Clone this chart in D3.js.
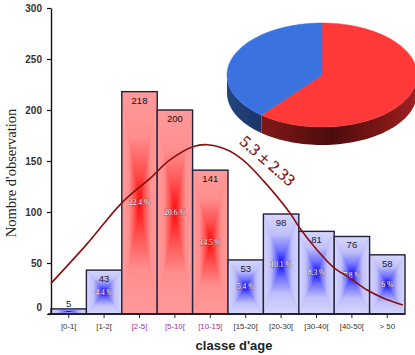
<!DOCTYPE html>
<html><head><meta charset="utf-8">
<script src="https://cdn.jsdelivr.net/npm/d3@7"></script>
<style>html,body{margin:0;padding:0;background:#fff;}svg{display:block;}</style>
</head><body>
<script>
const categories = ["[0-1[","[1-2[","[2-5[","[5-10[","[10-15[","[15-20[","[20-30[","[30-40[","[40-50[","> 50"];
const counts = [5,43,218,200,141,53,98,81,76,58];
const pctLabels = ["","4.4 %","22.4 %","20.6 %","14.5 %","5.4 %","10.1 %","8.3 %","7.8 %","6 %"];
const groups = ["b","b","r","r","r","b","b","b","b","b"];
const yTicks = [0,50,100,150,200,250,300];
const curveX = [0,1,2,2.8,3.36,4.01,4.41,4.97,5.42,5.99,6.75,7.03,7.51,7.97,8.45,8.93,9.38,9.94];
const curveY = [30,68,109,133,151,164,166,161,151,131,99,84,63,46,35,23.5,15.7,8.8];
const pieLabels = ["red","blue"];
const pieValues = [61,39];
const curveLabel = "5.3 \u00b1 2.33";

const W=415,H=355;
const svg=d3.select("body").append("svg").attr("width",W).attr("height",H);
svg.append("rect").attr("width",W).attr("height",H).attr("fill","#fff");
const defs=svg.append("defs");

const x=d3.scaleBand().domain(categories).range([51,405]).padding(0);
const xc=d3.scaleLinear().domain([0,10]).range([51,405]);
const y=d3.scaleLinear().domain([0,300]).range([314,8]);

// gradients
const pal={r:["#ff9a9a","#ff8e8e","#ff5050","#ff0808"], b:["#d6d6ff","#c0c0fa","#7272ff","#0808ff"]};
function mkGrad(id,g,x1,y1,x2,y2){
  const lg=defs.append("linearGradient").attr("id",id).attr("x1",x1).attr("y1",y1).attr("x2",x2).attr("y2",y2);
  [[0,0],[0.4,1],[0.72,2],[1,3]].forEach(([o,i])=>lg.append("stop").attr("offset",o).attr("stop-color",pal[g][i]));
}
["r","b"].forEach(g=>{
  mkGrad("gT"+g,g,0,0,0,1); mkGrad("gB"+g,g,0,1,0,0);
  mkGrad("gL"+g,g,0,0,1,0); mkGrad("gR"+g,g,1,0,0,0);
});

const bars=svg.append("g");
categories.forEach((c,i)=>{
  const x0=x(c),x1=x0+x.bandwidth(),y0=y(counts[i]),y1=y(0),cx=(x0+x1)/2,cy=(y0+y1)/2,g=groups[i];
  const gg=bars.append("g");
  gg.append("rect").attr("x",x0).attr("y",y0).attr("width",x1-x0).attr("height",y1-y0).attr("fill",pal[g][2]);
  const tris=[[[x0,y0],[x1,y0],[cx,cy],"gT"],[[x0,y1],[x1,y1],[cx,cy],"gB"],[[x0,y0],[x0,y1],[cx,cy],"gL"],[[x1,y0],[x1,y1],[cx,cy],"gR"]];
  tris.forEach(t=>gg.append("path").attr("d",d3.line()([t[0],t[1],t[2]])+"Z").attr("fill","url(#"+t[3]+g+")").attr("stroke","url(#"+t[3]+g+")").attr("stroke-width",0.4));
  gg.append("rect").attr("x",x0).attr("y",y0).attr("width",x1-x0).attr("height",y1-y0).attr("fill","none").attr("stroke","#22223a").attr("stroke-width",1.4);
});

// axes
const yAx=svg.append("g").attr("transform","translate(51,0)").call(d3.axisLeft(y).tickValues(yTicks).tickSize(4).tickSizeOuter(0).tickPadding(5));
yAx.select(".domain").attr("stroke","#111").attr("stroke-width",1.4);
yAx.selectAll(".tick line").attr("stroke","#111").attr("stroke-width",1.2);
yAx.selectAll(".tick text").attr("font-family","Arial, 'Liberation Sans', sans-serif").attr("font-size",10).attr("font-weight","bold").attr("fill","#333");
yAx.selectAll(".tick").filter(d=>d===0).select("text").attr("dy","-0.35em");

const xAx=svg.append("g").attr("transform","translate(0,314)").call(d3.axisBottom(x).tickSize(4).tickSizeOuter(0).tickPadding(5));
xAx.select(".domain").attr("d","M48,0H405").attr("stroke","#111").attr("stroke-width",1.4);
xAx.selectAll(".tick line").attr("stroke","#222");
xAx.selectAll(".tick text").attr("font-family","Arial, 'Liberation Sans', sans-serif").attr("font-size",7.8)
  .attr("fill",(d,i)=>groups[i]==="r"?"#a0309a":"#333");

// value labels
categories.forEach((c,i)=>{
  const cx=x(c)+x.bandwidth()/2, top=y(counts[i]), h=y(0)-top;
  svg.append("text").attr("x",cx).attr("y",h>20?top+12:top-2).attr("text-anchor","middle")
    .attr("font-family","Arial, 'Liberation Sans', sans-serif").attr("font-size",9.5)
    .attr("fill",groups[i]==="r"?"#111":"#1a1a3a").text(counts[i]);
  if(pctLabels[i]) svg.append("text").attr("x",cx).attr("y",(top+y(0))/2+2.5).attr("text-anchor","middle")
    .attr("font-family","'Times New Roman','Liberation Serif',serif").attr("font-size",7.5)
    .attr("fill","#fff").attr("stroke","rgba(80,20,40,0.45)").attr("stroke-width",1.1).attr("paint-order","stroke").text(pctLabels[i]);
});

// curve
const pts=curveX.map((v,i)=>[xc(v),y(curveY[i])]);
svg.append("path").attr("d",d3.line().curve(d3.curveCatmullRom)(pts)).attr("fill","none").attr("stroke","#8a1010").attr("stroke-width",1.6);
svg.append("text").attr("transform","translate(264,165) rotate(41)").attr("text-anchor","middle")
  .attr("font-family","'Times New Roman','Liberation Serif',serif").attr("font-size",16.5).attr("fill","#7a1212")
  .attr("stroke","#7a1212").attr("stroke-width",0.3).text(curveLabel);

// titles
svg.append("text").attr("x",234).attr("y",350).attr("text-anchor","middle").attr("font-family","Arial, 'Liberation Sans', sans-serif")
  .attr("font-size",13).attr("font-weight","bold").attr("fill","#222").text("classe d'age");
svg.append("text").attr("transform","translate(16,173) rotate(-90)").attr("text-anchor","middle")
  .attr("font-family","'Times New Roman','Liberation Serif',serif").attr("font-size",14.5).attr("fill","#222").text("Nombre d'observation");

// 3D pie
const pcx=322,pcy=75,prx=95,pry=52,th=18;
const arcs=d3.pie().sort(null)(pieValues);
const pt=(a,dy)=>[pcx+prx*Math.sin(a),pcy-pry*Math.cos(a)+(dy||0)];
const sideG=defs.append("linearGradient").attr("id","sideR").attr("gradientUnits","userSpaceOnUse").attr("x1",227).attr("x2",417).attr("y1",0).attr("y2",0);
[[0,"#8a1c1c"],[0.25,"#7a1616"],[0.55,"#4c0c0c"],[0.8,"#7a1616"],[1,"#a02222"]].forEach(s=>sideG.append("stop").attr("offset",s[0]).attr("stop-color",s[1]));
const sideB=defs.append("linearGradient").attr("id","sideB").attr("gradientUnits","userSpaceOnUse").attr("x1",227).attr("x2",265).attr("y1",0).attr("y2",0);
[[0,"#23457f"],[1,"#1a3266"]].forEach(s=>sideB.append("stop").attr("offset",s[0]).attr("stop-color",s[1]));
const topCol=["#ff3838","#3a72e0"], sideCol=["url(#sideR)","url(#sideB)"];
const pieG=svg.append("g");
arcs.forEach((a,i)=>{
  const s=Math.max(a.startAngle,Math.PI/2), e=Math.min(a.endAngle,3*Math.PI/2);
  if(e>s){
    const n=60, up=[], dn=[];
    for(let k=0;k<=n;k++){const t=s+(e-s)*k/n; up.push(pt(t)); dn.push(pt(t,th));}
    pieG.append("path").attr("d",d3.line()(up.concat(dn.reverse()))+"Z").attr("fill",sideCol[i]);
  }
});
arcs.forEach((a,i)=>{
  const n=90, p=[[pcx,pcy]];
  for(let k=0;k<=n;k++){p.push(pt(a.startAngle+(a.endAngle-a.startAngle)*k/n));}
  pieG.append("path").attr("d",d3.line()(p)+"Z").attr("fill",topCol[i]).attr("stroke",topCol[i]).attr("stroke-width",0.5);
});
</script>
</body></html>
